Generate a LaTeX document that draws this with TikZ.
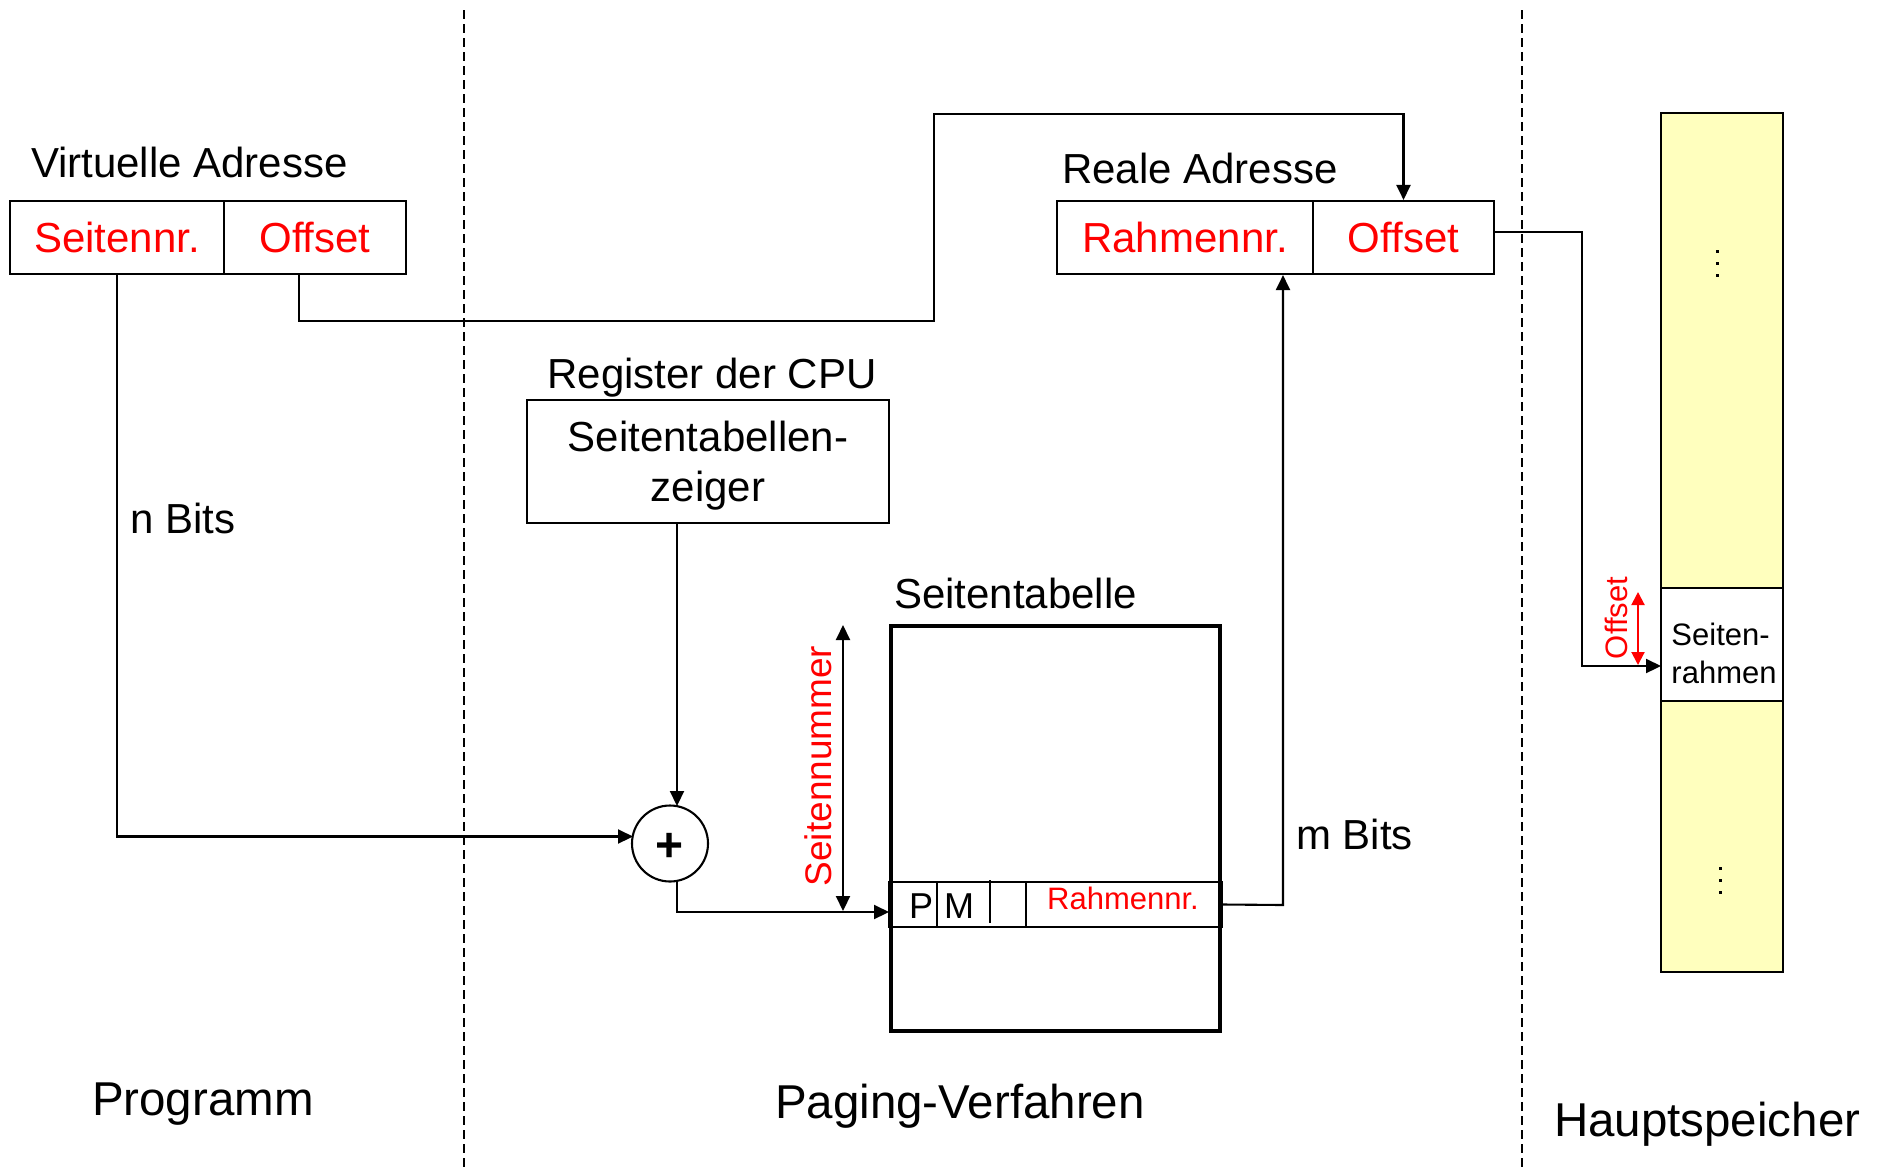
\documentclass[tikz,border=0pt]{standalone}
\usepackage{fontspec}
\setmainfont{Liberation Sans}
\usetikzlibrary{arrows.meta}
\definecolor{memyellow}{HTML}{FFFFBE}
\definecolor{txtred}{HTML}{FF0000}
\begin{document}
\begin{tikzpicture}[x=1pt,y=-1pt,
  line width=2.1pt,
  >={Triangle[length=15pt,width=14pt]},
  fmain/.style={font=\fontsize{42}{50}\selectfont},
  fbig/.style={font=\fontsize{47.5}{56}\selectfont},
  fsmall/.style={font=\fontsize{31}{38}\selectfont},
  cell/.style={draw, minimum height=73pt, inner sep=0pt, text=txtred, fmain},
  sepline/.style={line width=1.6pt, dash pattern=on 9pt off 5pt},
  redarrow/.style={txtred, line width=2pt, {Triangle[length=13pt,width=13pt]}-{Triangle[length=13pt,width=13pt]}},
  label/.style={fmain, inner sep=0pt, anchor=west},
  biglabel/.style={fbig, inner sep=0pt, anchor=west}
]
\useasboundingbox (0,0) rectangle (1877,1171);

% separators
\coordinate (s1a) at (464,10); \coordinate (s1b) at (464,1167);
\coordinate (s2a) at (1522,10); \coordinate (s2b) at (1522,1167);
\draw[sepline] (s1a) -- (s1b);
\draw[sepline] (s2a) -- (s2b);

% virtual address
\node[label] (vlab) at (30,162) {Virtuelle Adresse};
\node[cell, minimum width=214pt] (vs) at (117,237.5) {Seitennr.};
\node[cell, minimum width=182pt] (vo) at (315,237.5) {Offset};

% real address
\node[label] (rlab) at (1061,168) {Reale Adresse};
\node[cell, minimum width=256pt] (rr) at (1185,237.5) {Rahmennr.};
\node[cell, minimum width=181pt] (ro) at (1403.5,237.5) {Offset};

% register
\node[fmain, inner sep=0pt] (reglab) at (712,378) {Register der CPU};
\node[draw, fmain, minimum width=362pt, minimum height=123pt, align=center, inner sep=0pt] (reg) at (708,461.5) {};
\node[fmain, align=center, inner sep=0pt] (regtxt) at (708,466) {Seitentabellen-\\zeiger};

% adder
\node[draw, circle, minimum size=76pt, inner sep=0pt] (sum) at (670,843.5) {};
\node[inner sep=0pt, font=\fontsize{48}{50}\selectfont\bfseries] (plus) at (670,847) {+};

% page table
\node[fmain, inner sep=0pt, anchor=west] (tablab) at (893,593) {Seitentabelle};
\node[draw, line width=4.5pt, minimum width=329pt, minimum height=405pt, inner sep=0pt] (tab) at (1055.5,828.5) {};
\node[draw, minimum width=333pt, minimum height=45pt, inner sep=0pt] (row) at (1055.5,904.5) {};
\draw (937,882) -- (937,927);
\draw (1026,882) -- (1026,927);
\draw[line width=2.4pt] (990,880) -- (990,923);
\node[inner sep=0pt, font=\fontsize{36}{40}\selectfont] (pflag) at (921,906) {P};
\node[inner sep=0pt, font=\fontsize{36}{40}\selectfont] (mflag) at (959,906) {M};
\node[inner sep=0pt, fsmall, text=txtred] (trn) at (1123,898) {Rahmennr.};

% main memory
\node[draw, fill=memyellow, minimum width=122pt, minimum height=859pt, inner sep=0pt] (mem) at (1722,542.5) {};
\node[draw, fill=white, minimum width=122pt, minimum height=113pt, inner sep=0pt] (frame) at (1722,644.5) {};
\node[inner sep=0pt, align=left, fsmall] (frametxt) at (1724,653) {Seiten-\\rahmen};
\fill (1715.5,249.5) rectangle ++(3.5,3.5);
\fill (1715.5,261.5) rectangle ++(3.5,3.5);
\fill (1715.5,273.5) rectangle ++(3.5,3.5);
\fill (1718.5,866.5) rectangle ++(3.5,3.5);
\fill (1718.5,878.5) rectangle ++(3.5,3.5);
\fill (1718.5,890.5) rectangle ++(3.5,3.5);

% labels
\node[label] (nbits) at (129,518) {n Bits};
\node[label] (mbits) at (1295,834) {m Bits};
\node[biglabel] (prog) at (91,1104) {Programm};
\node[biglabel] (pag) at (774,1106) {Paging-Verfahren};
\node[biglabel] (haupt) at (1553,1124) {Hauptspeicher};
\node[inner sep=0pt, rotate=90, text=txtred, font=\fontsize{37}{40}\selectfont] (snum) at (818,766) {Seitennummer};
\node[inner sep=0pt, rotate=90, text=txtred, fsmall] (offl) at (1616,618) {Offset};

% connectors
\coordinate (c1) at (934,321);
\coordinate (c2) at (934,114);
\coordinate (sumin) at (633,836.5);
\coordinate (sumtop) at (677,806);
\coordinate (sumbot) at (677,881);
\coordinate (rowin) at (889,912);
\coordinate (c3) at (1283,905);
\coordinate (roout) at (1494,232);
\coordinate (c4) at (1582,666);
\coordinate (fin) at (1661,666);
\coordinate (sn1) at (843,625);
\coordinate (sn2) at (843,911);
\coordinate (of1) at (1638,592);
\coordinate (of2) at (1638,665);

\draw[->] (vs.south) |- (sumin);
\draw[->] ([xshift=-16pt]vo.south) |- (c1) -- (c2) -| (ro.north);
\draw[->] (reg.south -| sumtop) -- (sumtop);
\draw[->] (sumbot) |- (rowin);
\draw[<->] (sn2) -- (sn1);
\draw[->] (row.east) -- (c3) -- (c3 |- rr.south);
\draw[->] (roout) -- (c4 |- roout) -- (c4) -- (fin);
\draw[redarrow] (of1) -- (of2);
\end{tikzpicture}
\end{document}
